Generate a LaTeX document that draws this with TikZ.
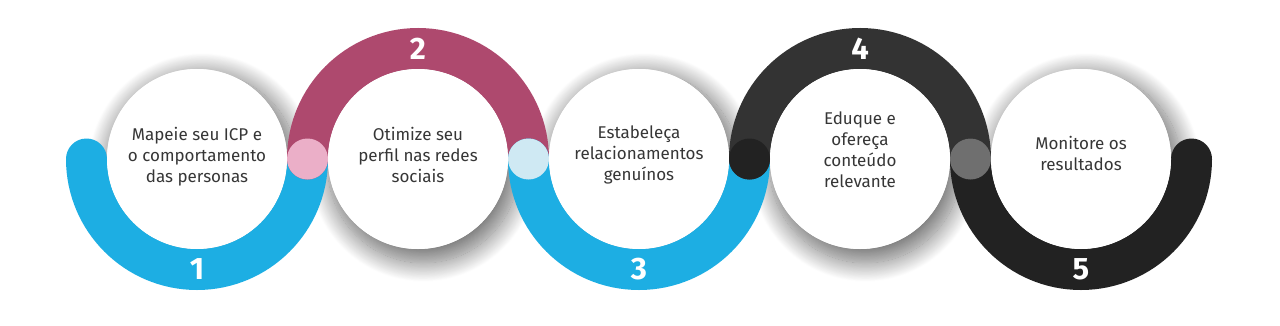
\documentclass[tikz,border=0pt]{standalone}
\usepackage{fontspec}
\setmainfont{Fira Sans}
\usetikzlibrary{shadows.blur}
\definecolor{cblue}{HTML}{1DAEE3}
\definecolor{cmaroon}{HTML}{AE496E}
\definecolor{cdark}{HTML}{333333}
\definecolor{cblack}{HTML}{222222}
\definecolor{cpink}{HTML}{EBAFC8}
\definecolor{clight}{HTML}{CFE9F3}
\definecolor{cgray}{HTML}{6F6F6F}
\definecolor{textgray}{HTML}{363636}
\begin{document}
\begin{tikzpicture}[x=1pt,y=1pt,
  shadowdisc/.style={circle, fill=white, minimum size=180pt, inner sep=0pt,
    blur shadow={shadow xshift=5pt, shadow yshift=-8pt, shadow blur radius=18pt,
      shadow blur steps=25, shadow opacity=55, shadow scale=1.06}},
  disc/.style={circle, fill=white, minimum size=180pt, inner sep=0pt},
  label/.style={text=textgray, align=center, font=\fontsize{17}{21}\selectfont},
  ring/.style={line width=41pt, line cap=round},
  dot/.style={circle, minimum size=41pt, inner sep=0pt},
  num/.style={text=white, font=\fontsize{31}{31}\selectfont\bfseries}
]
\useasboundingbox (0,0) rectangle (1280,325);
% shadows
\foreach \i/\x in {1/197,2/418,3/639,4/860,5/1081}
  \node[shadowdisc] (s\i) at (\x,166) {};
% rings
\draw[ring, cblue]   ([xshift=-110.5pt]s1.center) arc[start angle=180, end angle=360, radius=110.5];
\draw[ring, cmaroon] ([xshift=-110.5pt]s2.center) arc[start angle=180, end angle=0, radius=110.5];
\draw[ring, cblue]   ([xshift=-110.5pt]s3.center) arc[start angle=180, end angle=360, radius=110.5];
\draw[ring, cdark]   ([xshift=-110.5pt]s4.center) arc[start angle=180, end angle=0, radius=110.5];
\draw[ring, cblack]  ([xshift=-110.5pt]s5.center) arc[start angle=180, end angle=360, radius=110.5];
% discs
\node[disc] (c1) at (197,166) {};
\node[disc] (c2) at (418,166) {};
\node[disc] (c3) at (639,166) {};
\node[disc] (c4) at (860,166) {};
\node[disc] (c5) at (1081,166) {};
% texts
\node[label] (t1) at ([yshift=2pt]c1.center) {Mapeie seu ICP e\\o comportamento\\das personas};
\node[label] (t2) at ([yshift=4pt]c2.center) {Otimize seu\\perfil nas redes\\sociais};
\node[label] (t3) at ([yshift=4pt]c3.center) {Estabeleça\\relacionamentos\\genuínos};
\node[label] (t4) at ([yshift=9pt]c4.center) {Eduque e\\ofereça\\conteúdo\\relevante};
\node[label] (t5) at ([yshift=6pt]c5.center) {Monitore os\\resultados};
% junction dots
\node[dot, fill=cpink]  (j12) at (307.5,166) {};
\node[dot, fill=clight] (j23) at (528.5,166) {};
\node[dot, fill=cblack] (j34) at (749.5,166) {};
\node[dot, fill=cgray]  (j45) at (970.5,166) {};
% numbers
\node[num] (n1) at ([yshift=-110.5pt]c1.center) {1};
\node[num] (n2) at ([yshift=110.5pt]c2.center) {2};
\node[num] (n3) at ([yshift=-110.5pt]c3.center) {3};
\node[num] (n4) at ([yshift=110.5pt]c4.center) {4};
\node[num] (n5) at ([yshift=-110.5pt]c5.center) {5};
\end{tikzpicture}
\end{document}
